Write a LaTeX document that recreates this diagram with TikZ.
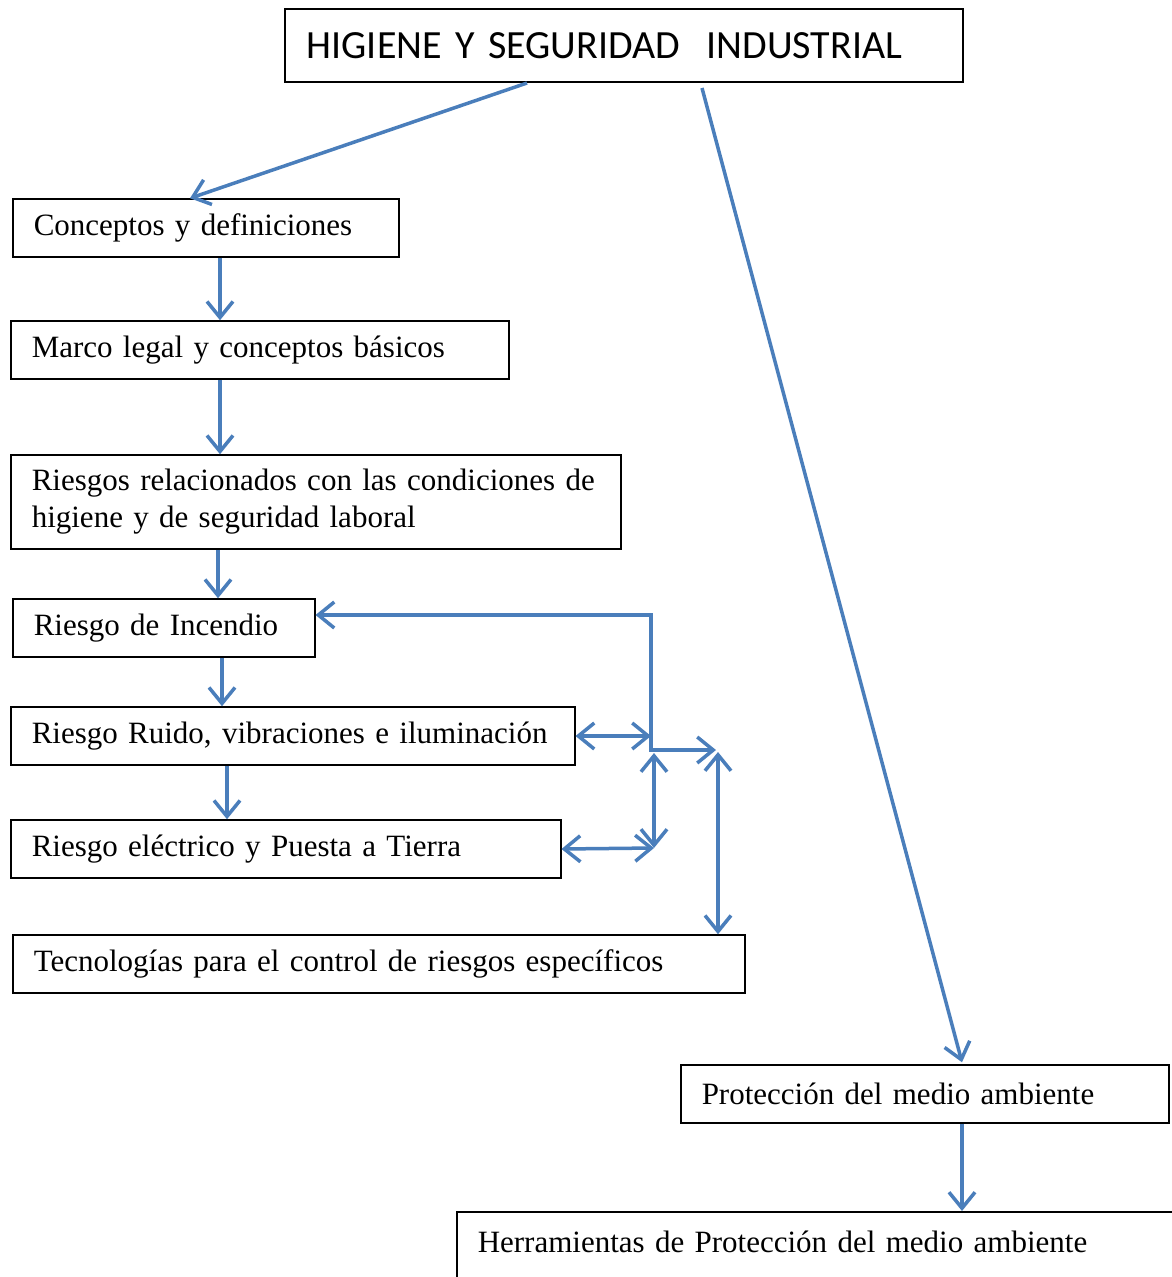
\documentclass[tikz,border=0pt]{standalone}
\usepackage{fontspec}
\setmainfont{Liberation Serif}
\newfontfamily\titulo{Carlito}
\usetikzlibrary{arrows.meta}
\definecolor{azul}{RGB}{74,126,187}
\begin{document}
\begin{tikzpicture}[x=1pt,y=-1pt,
  caja/.style={draw,line width=1.5pt,anchor=west,inner xsep=21pt,inner ysep=0pt,
    minimum height=58pt,align=left,font=\fontsize{31}{37}\selectfont},
  flecha/.style={draw=azul,line width=3.5pt,-{Straight Barb[length=16pt,width=26pt]}},
  dflecha/.style={draw=azul,line width=3.5pt,{Straight Barb[length=16pt,width=26pt]}-{Straight Barb[length=16pt,width=26pt]}}]
\useasboundingbox (0,0) rectangle (1172,1277);

\node[caja,inner xsep=22pt,minimum height=73pt,text width=634pt,font=\titulo\fontsize{40}{45}\selectfont] (hys) at (284,45.5) {HIGIENE Y SEGURIDAD\ \ INDUSTRIAL};
\node[caja,text width=344pt] (conc) at (12,228) {Conceptos y definiciones};
\node[caja,text width=456pt] (marco) at (10,350) {Marco legal y conceptos básicos};
\node[caja,text width=568pt,minimum height=94pt] (riesg) at (10,502) {\mbox{Riesgos relacionados con las condiciones de}\\higiene y de seguridad laboral};
\node[caja,text width=260pt] (incen) at (12,628) {Riesgo de Incendio};
\node[caja,text width=522pt] (ruido) at (10,736) {\mbox{Riesgo Ruido, vibraciones e iluminación}};
\node[caja,text width=508pt] (elec) at (10,849) {Riesgo eléctrico y Puesta a Tierra};
\node[caja,text width=690pt] (tecno) at (12,964) {Tecnologías para el control de riesgos específicos};
\node[caja,text width=446pt] (prot) at (680,1094) {Protección del medio ambiente};
\node[caja,anchor=north west,text width=700pt,minimum height=0pt,inner ysep=21pt,text height=20pt,text depth=60pt] (herr) at (456,1211) {Herramientas de Protección del medio ambiente};

\coordinate (s1) at (527,83);
\coordinate (s2) at (702,88);
\coordinate (h1) at (651,736);
\coordinate (h3) at (716,750);
\coordinate (h4) at (654,753);
\coordinate (h5) at (654,848);
\coordinate (h6) at (718,752);

\draw[flecha] (s1) -- ([xshift=178pt]conc.north west);
\draw[flecha] (s2) -- ([xshift=282pt,yshift=2pt]prot.north west);
\draw[flecha] ([xshift=208pt]conc.south west) -- ([xshift=210pt]marco.north west);
\draw[flecha] ([xshift=210pt]marco.south west) -- ([xshift=210pt]riesg.north west);
\draw[flecha] ([xshift=208pt]riesg.south west) -- ([xshift=206pt]incen.north west);
\draw[flecha] ([xshift=210pt]incen.south west) -- ([xshift=212pt]ruido.north west);
\draw[flecha] ([xshift=217pt]ruido.south west) -- ([xshift=217pt]elec.north west);
\draw[flecha] ([xshift=282pt]prot.south west) -- ([xshift=506pt]herr.north west);

\draw[flecha] (h1) |- ([yshift=13pt]incen.east);
\draw[dflecha] (ruido.east) -- (h1);
\draw[flecha] (h1) |- (h3);
\draw[dflecha] (h4) -- (h5);
\draw[dflecha] (elec.east) -- (h5);
\draw[dflecha] (h6) -- (h6 |- tecno.north);
\end{tikzpicture}
\end{document}
